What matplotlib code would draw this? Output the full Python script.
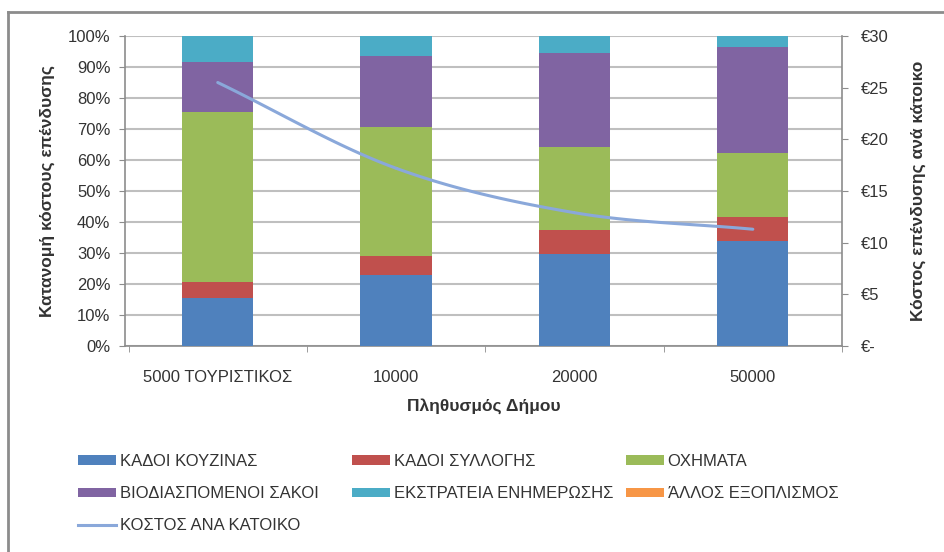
import numpy as np
import matplotlib
matplotlib.use("Agg")
import matplotlib.pyplot as plt
from matplotlib.patches import Patch
from matplotlib.lines import Line2D
from matplotlib.ticker import FixedLocator

plt.rcParams['font.family'] = ['Liberation Sans', 'DejaVu Sans']

categories = ["5000 ΤΟΥΡΙΣΤΙΚΟΣ", "10000", "20000", "50000"]
kadoi_kouzinas = [15.5, 22.9, 29.7, 33.9]
kadoi_syllogis = [5.1, 6.1, 7.7, 7.7]
oximata = [54.9, 41.6, 26.8, 20.7]
sakoi = [16.1, 22.9, 30.3, 34.2]
ekstrateia = [8.4, 6.5, 5.5, 3.5]
allos = [0.0, 0.0, 0.0, 0.0]
kostos_ana_katoiko = [25.5, 17.2, 12.9, 11.3]

series_names = ["ΚΑΔΟΙ ΚΟΥΖΙΝΑΣ", "ΚΑΔΟΙ ΣΥΛΛΟΓΗΣ", "ΟΧΗΜΑΤΑ",
                "ΒΙΟΔΙΑΣΠΟΜΕΝΟΙ ΣΑΚΟΙ", "ΕΚΣΤΡΑΤΕΙΑ ΕΝΗΜΕΡΩΣΗΣ", "ΆΛΛΟΣ ΕΞΟΠΛΙΣΜΟΣ"]
line_name = "ΚΟΣΤΟΣ ΑΝΑ ΚΑΤΟΙΚΟ"
left_ticks = ["0%", "10%", "20%", "30%", "40%", "50%", "60%", "70%", "80%", "90%", "100%"]
right_ticks = ["€-", "€5", "€10", "€15", "€20", "€25", "€30"]

colors = ["#4F81BD", "#C0504D", "#9BBB59", "#8064A2", "#4BACC6", "#F79646"]
line_color = "#8AA8DA"
grid_c = "#BFBFBF"
axis_c = "#8C8C8C"
text_c = "#333333"
FS = 12
TFS = 12.5

W, H = 944, 552
fig = plt.figure(figsize=(W / 100, H / 100), dpi=100)
ax = fig.add_axes([125 / W, 1 - 346 / H, (842 - 125) / W, (346 - 36) / H])

x = np.arange(len(categories))
bottom = np.zeros(len(categories))
data = [kadoi_kouzinas, kadoi_syllogis, oximata, sakoi, ekstrateia, allos]
for vals, c in zip(data, colors):
    vals = np.array(vals)
    ax.bar(x, vals, 0.4, bottom=bottom, color=c, zorder=3, linewidth=0)
    bottom += vals

ax.set_xlim(-0.52, len(categories) - 0.5)
ax.set_ylim(0, 100)
ax.set_yticks(np.arange(0, 101, 10))
ax.set_yticklabels(left_ticks)
ax.yaxis.grid(True, color=grid_c, linewidth=1.5, zorder=0)
ax.set_axisbelow(True)
ax.set_xticks(x)
ax.set_xticklabels(categories)
ax.xaxis.set_minor_locator(FixedLocator(np.arange(-0.5, len(categories), 1.0)))
ax.tick_params(axis='x', which='major', length=0, pad=17, labelsize=FS, colors=text_c)
ax.tick_params(axis='x', which='minor', length=4.5, color=axis_c, direction='out')
ax.tick_params(axis='y', length=4.5, color=axis_c, labelsize=FS, colors=text_c, pad=6)
for s in ['top', 'right']:
    ax.spines[s].set_visible(False)
for s in ['left', 'bottom']:
    ax.spines[s].set_color(axis_c)
    ax.spines[s].set_linewidth(1.2)
ax.set_ylabel("Κατανομή κόστους επένδυσης", fontsize=TFS, fontweight='bold',
              color=text_c, labelpad=9)
ax.set_xlabel("Πληθυσμός Δήμου", fontsize=TFS, fontweight='bold', color=text_c, labelpad=10)

ax2 = ax.twinx()
ax2.set_ylim(0, 30)
ax2.set_yticks(np.arange(0, 31, 5))
ax2.set_yticklabels(right_ticks)
ax2.tick_params(axis='y', length=4.5, color=axis_c, labelsize=FS, colors=text_c, pad=9)
for s in ['top', 'left', 'bottom']:
    ax2.spines[s].set_visible(False)
ax2.spines['right'].set_color(axis_c)
ax2.spines['right'].set_linewidth(1.2)
ax2.set_ylabel("Κόστος επένδυσης ανά κάτοικο", fontsize=TFS, fontweight='bold',
               color=text_c, labelpad=16)


def smooth(xs, ys, n=30):
    xs = np.asarray(xs, float)
    ys = np.asarray(ys, float)
    px = np.concatenate([[2 * xs[0] - xs[1]], xs, [2 * xs[-1] - xs[-2]]])
    py = np.concatenate([[2 * ys[0] - ys[1]], ys, [2 * ys[-1] - ys[-2]]])
    ox, oy = [], []
    for i in range(1, len(px) - 2):
        t = np.linspace(0, 1, n)
        for arr, out in ((px, ox), (py, oy)):
            p0, p1, p2, p3 = arr[i - 1], arr[i], arr[i + 1], arr[i + 2]
            out.extend(0.5 * ((2 * p1) + (-p0 + p2) * t + (2 * p0 - 5 * p1 + 4 * p2 - p3) * t ** 2
                              + (-p0 + 3 * p1 - 3 * p2 + p3) * t ** 3))
    return np.array(ox), np.array(oy)


sx, sy = smooth(x, kostos_ana_katoiko)
ax2.plot(sx, sy, color=line_color, linewidth=2.2, zorder=5, solid_capstyle='round')

# legend: three columns
handles = [Patch(facecolor=c, edgecolor='none') for c in colors]
line_handle = Line2D([], [], color=line_color, linewidth=2.2)
cols = [
    ([handles[0], handles[3], line_handle], [series_names[0], series_names[3], line_name], 78),
    ([handles[1], handles[4]], [series_names[1], series_names[4]], 352),
    ([handles[2], handles[5]], [series_names[2], series_names[5]], 626),
]
for hs, ls, xpos in cols:
    fig.legend(hs, ls, loc='upper left', bbox_to_anchor=(xpos / W, 1 - 454 / H),
               frameon=False, fontsize=FS, handlelength=2.3, handleheight=0.5,
               handletextpad=0.2, labelspacing=1.03, borderpad=0, borderaxespad=0,
               labelcolor=text_c)

# outer chart border (top and left)
fig.add_artist(Line2D([8 / W, 8 / W], [0, 1 - 12 / H], transform=fig.transFigure,
                      color="#8C8C8C", linewidth=2))
fig.add_artist(Line2D([8 / W, 1], [1 - 12 / H, 1 - 12 / H], transform=fig.transFigure,
                      color="#8C8C8C", linewidth=2))

fig.savefig("out.png", dpi=100)
